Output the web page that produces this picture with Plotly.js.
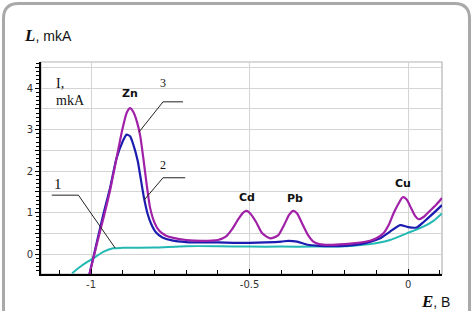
<!DOCTYPE html>
<html>
<head>
<meta charset="utf-8">
<script src="https://cdn.plot.ly/plotly-3.0.1.min.js"></script>
<style>html,body{margin:0;padding:0;background:#fff;} #chart{width:473px;height:311px;}</style>
</head>
<body>
<div id="chart"></div>
<script>
// Curve 3 (magenta)
const E3 = [-1.005, -0.98, -0.96, -0.94, -0.92, -0.90, -0.887, -0.877, -0.867, -0.855, -0.845, -0.835, -0.825, -0.814, -0.80, -0.785, -0.765, -0.74, -0.70, -0.65, -0.60, -0.575, -0.555, -0.535, -0.52, -0.509, -0.498, -0.48, -0.46, -0.435, -0.41, -0.39, -0.375, -0.362, -0.35, -0.335, -0.315, -0.299, -0.28, -0.25, -0.2, -0.15, -0.12, -0.1, -0.078, -0.06, -0.046, -0.03, -0.017, -0.005, 0.01, 0.022, 0.033, 0.05, 0.07, 0.09, 0.107];
const I3 = [-0.48, 0.3, 0.9, 1.54, 2.3, 3.05, 3.42, 3.52, 3.43, 3.18, 2.85, 2.3, 1.7, 1.12, 0.76, 0.56, 0.45, 0.39, 0.34, 0.32, 0.34, 0.42, 0.6, 0.85, 1.0, 1.04, 0.98, 0.78, 0.5, 0.38, 0.45, 0.72, 0.95, 1.04, 0.98, 0.75, 0.45, 0.3, 0.24, 0.22, 0.24, 0.28, 0.32, 0.38, 0.5, 0.72, 0.98, 1.22, 1.37, 1.32, 1.1, 0.92, 0.84, 0.9, 1.05, 1.2, 1.35];
// Curve 2 (blue)
const E2 = [-1.005, -0.98, -0.96, -0.94, -0.92, -0.90, -0.888, -0.877, -0.866, -0.853, -0.843, -0.833, -0.822, -0.81, -0.795, -0.775, -0.745, -0.70, -0.65, -0.60, -0.55, -0.50, -0.45, -0.40, -0.378, -0.35, -0.32, -0.28, -0.2, -0.15, -0.12, -0.088, -0.057, -0.025, 0.0, 0.027, 0.05, 0.075, 0.107];
const I2 = [-0.48, 0.35, 1.0, 1.6, 2.3, 2.72, 2.88, 2.84, 2.62, 2.25, 1.8, 1.35, 0.98, 0.72, 0.52, 0.4, 0.33, 0.29, 0.28, 0.28, 0.27, 0.27, 0.28, 0.3, 0.32, 0.3, 0.23, 0.2, 0.2, 0.24, 0.29, 0.38, 0.54, 0.7, 0.65, 0.64, 0.78, 0.95, 1.18];
// Curve 1 (cyan)
const E1 = [-1.06, -1.03, -0.993, -0.96, -0.93, -0.9, -0.8, -0.7, -0.6, -0.5, -0.4, -0.3, -0.2, -0.15, -0.12, -0.057, -0.004, 0.048, 0.08, 0.107];
const I1 = [-0.46, -0.28, -0.1, 0.06, 0.14, 0.15, 0.16, 0.19, 0.19, 0.18, 0.18, 0.18, 0.19, 0.22, 0.24, 0.34, 0.5, 0.66, 0.8, 0.98];

const xTickVals = [-1, -0.5, 0];
const xTickText = ['-1', '-0.5', '0'];
const yTickVals = [0, 0.5, 1, 1.5, 2, 2.5, 3, 3.5, 4, 4.5];
const yTickText = ['0', '', '1', '', '2', '', '3', '', '4', ''];

const peakNames = ['Zn', 'Cd', 'Pb', 'Cu'];
const peakE = [-0.877, -0.509, -0.356, -0.017];
const peakI = [3.86, 1.37, 1.34, 1.69];

const curveNames = ['1', '2', '3'];
const curveLabelE = [-1.104, -0.773, -0.773];
const curveLabelI = [1.69, 2.14, 4.12];

const SERIF = 'Liberation Serif, Times New Roman, serif';
const SANS = 'DejaVu Sans, Verdana, sans-serif';

const line = (w, c) => ({width: w, color: c, shape: 'spline', smoothing: 0.6});
const traces = [
  {x: E1, y: I1, mode: 'lines', line: line(2, '#22b8b4'), hoverinfo: 'skip'},
  {x: E2, y: I2, mode: 'lines', line: line(2.2, '#1c1cb0'), hoverinfo: 'skip'},
  {x: E3, y: I3, mode: 'lines', line: line(2.2, '#a020a8'), hoverinfo: 'skip'}
];

const annotations = [];
peakNames.forEach((n, i) => annotations.push({
  x: peakE[i], y: peakI[i], xref: 'x', yref: 'y', text: '<b>' + n + '</b>',
  showarrow: false, font: {family: SANS, size: 11, color: '#111'}
}));
curveNames.forEach((n, i) => annotations.push({
  x: curveLabelE[i], y: curveLabelI[i], xref: 'x', yref: 'y', text: n,
  showarrow: false, font: {family: SERIF, size: i === 0 ? 15 : 12, color: '#111'}
}));
annotations.push({x: -1.116, y: 4.12, xref: 'x', yref: 'y', xanchor: 'left', text: 'I,',
  showarrow: false, font: {family: SERIF, size: 14, color: '#111'}});
annotations.push({x: -1.116, y: 3.71, xref: 'x', yref: 'y', xanchor: 'left', text: 'mkA',
  showarrow: false, font: {family: SERIF, size: 14, color: '#111'}});
annotations.push({x: 1.024, y: -0.132, xref: 'paper', yref: 'paper', xanchor: 'right', yanchor: 'middle',
  text: '<span style="font-family:Liberation Serif;font-size:17px"><b><i>E</i></b></span>, B',
  showarrow: false, font: {family: 'Liberation Sans, Arial, sans-serif', size: 14, color: '#111'}});

const shapes = [
  // rounded outer frame
  {type: 'path', xref: 'paper', yref: 'paper', layer: 'below',
   path: 'M -0.0935,-0.25 L -0.0935,1.2051 Q -0.0935,1.2759 -0.0561,1.2759 L 1.0312,1.2759 Q 1.0686,1.2759 1.0686,1.2051 L 1.0686,-0.25',
   line: {color: '#a9a9a9', width: 3}},
  // plot box (top/right)
  {type: 'rect', xref: 'paper', yref: 'paper', x0: 0, x1: 1, y0: 0, y1: 1, layer: 'below',
   line: {color: '#b4b4b4', width: 1.2}},
  // leader lines
  {type: 'path', xref: 'x', yref: 'y', path: 'M -0.710,3.67 L -0.773,3.67 L -0.849,2.94', line: {color: '#222', width: 1}},
  {type: 'path', xref: 'x', yref: 'y', path: 'M -0.703,1.84 L -0.773,1.84 L -0.833,1.30', line: {color: '#222', width: 1}},
  {type: 'path', xref: 'x', yref: 'y', path: 'M -1.124,1.42 L -1.040,1.42 L -0.924,0.145', line: {color: '#222', width: 1}}
];

const layout = {
  width: 473, height: 311,
  margin: {l: 41, r: 31, t: 62, b: 37, pad: 0},
  paper_bgcolor: '#ffffff', plot_bgcolor: '#ffffff',
  showlegend: false,
  title: {
    text: '<span style="font-family:Liberation Serif;font-size:17px"><b><i>L</i></b></span>, mkA',
    x: 0.053, xref: 'container', xanchor: 'left',
    y: 0.883, yref: 'container', yanchor: 'middle',
    font: {family: 'Liberation Sans, Arial, sans-serif', size: 14, color: '#111'}
  },
  xaxis: {
    range: [-1.158, 0.107], tickmode: 'array', tickvals: xTickVals, ticktext: xTickText,
    showgrid: true, gridcolor: '#d4d4d4', gridwidth: 1, zeroline: false,
    showline: true, linecolor: '#000', linewidth: 2,
    ticks: 'inside', ticklen: 5, tickcolor: '#000', tickwidth: 1,
    minor: {dtick: 0.1, tick0: 0, ticks: 'inside', ticklen: 4, tickcolor: '#000', showgrid: false},
    tickfont: {family: SANS, size: 10, color: '#333'}, fixedrange: true
  },
  yaxis: {
    range: [-0.48, 4.63], tickmode: 'array', tickvals: yTickVals, ticktext: yTickText,
    showgrid: true, gridcolor: '#d4d4d4', gridwidth: 1, zeroline: false,
    showline: true, linecolor: '#000', linewidth: 2,
    ticks: 'outside', ticklen: 4, tickcolor: '#000', tickwidth: 1,
    minor: {dtick: 0.1, tick0: 0, ticks: 'outside', ticklen: 3, tickcolor: '#000', showgrid: false},
    tickfont: {family: SANS, size: 10, color: '#333'}, fixedrange: true
  },
  annotations: annotations,
  shapes: shapes
};

Plotly.newPlot('chart', traces, layout, {staticPlot: true, displayModeBar: false});
</script>
</body>
</html>
